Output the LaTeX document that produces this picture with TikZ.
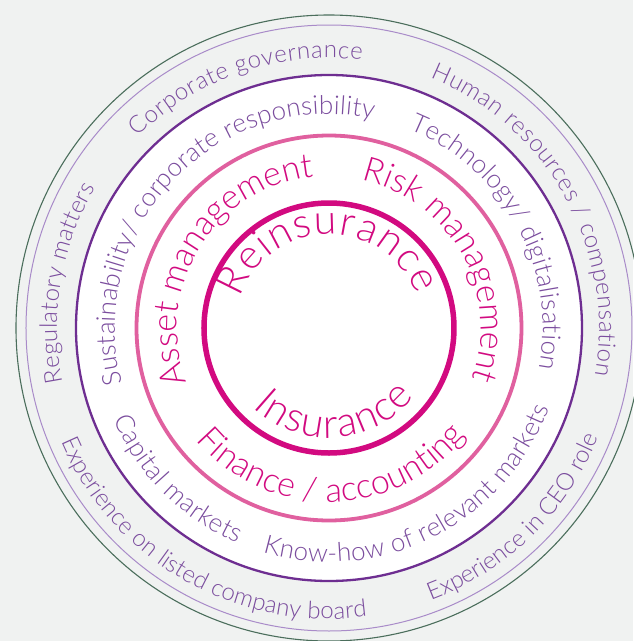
\documentclass[tikz,border=0pt]{standalone}
\usepackage{fontspec}
\IfFontExistsTF{Lato Light}{\setmainfont{Lato Light}}{\setmainfont{TeX Gyre Heros}}
\usetikzlibrary{decorations.text}
\definecolor{paper}{HTML}{F0F2F1}
\definecolor{ringgreen}{HTML}{4B6E5C}
\definecolor{ringlilac}{HTML}{A98BC9}
\definecolor{ringpurple}{HTML}{6E2E91}
\definecolor{ringpink}{HTML}{E0609F}
\definecolor{ringmag}{HTML}{D20A80}
\definecolor{textpurple}{HTML}{7B4D9E}
\newcommand{\coretext}{\fontsize{41}{41}\selectfont\color{ringmag}}
\newcommand{\midtext}{\fontsize{34}{34}\selectfont\color{ringmag}}
\newcommand{\innertext}{\fontsize{26}{26}\selectfont\color{textpurple}}
\newcommand{\outertext}{\fontsize{24}{24}\selectfont\color{textpurple}}
\tikzstyle{thinring} = [draw, line width=1.1pt]
\tikzstyle{ring} = [draw, line width=2.3pt]
\tikzstyle{arctext} = [decorate, decoration={text along path, text align={fit to path}}]

\begin{document}
\begin{tikzpicture}[x=1pt, y=1pt]
    \useasboundingbox (-329,-313) rectangle (304,328);
    \fill[paper] (-329,-313) rectangle (304,328);
    \coordinate (c) at (0,0);
    % rings
    \draw[thinring, ringgreen] (c) circle (313pt);
    \draw[thinring, ringlilac, line width=1pt] (c) circle (303pt);
    \draw[ring, ringpurple, fill=white] (c) circle (253pt);
    \draw[ring, ringpink, line width=3.8pt] (c) circle (192.5pt);
    \draw[ring, ringmag, line width=5.5pt] (c) circle (125pt);
    % core
    \path[arctext, decoration={text={|\coretext|Reinsurance}}] (c) ++(161:94pt) arc (161:21:94pt);
    \path[arctext, decoration={text={|\coretext|Insurance}}] (c) ++(226:110pt) arc (226:321:110pt);
    % pink ring
    \path[arctext, decoration={text={|\midtext|Asset management}}] (c) ++(201:152pt) arc (201:96:152pt);
    \path[arctext, decoration={text={|\midtext|Risk management}}] (c) ++(77.5:152pt) arc (77.5:-19:152pt);
    \path[arctext, decoration={text={|\midtext|Finance / accounting}}] (c) ++(220:174pt) arc (220:322:174pt);
    % purple ring
    \path[arctext, decoration={text={|\innertext|Sustainability/ corporate responsibility}}] (c) ++(195:214pt) arc (195:78:214pt);
    \path[arctext, decoration={text={|\innertext|Technology/ digitalisation}}] (c) ++(68:214pt) arc (68:-11:214pt);
    \path[arctext, decoration={text={|\innertext|Capital markets}}] (c) ++(203:234pt) arc (203:247:234pt);
    \path[arctext, decoration={text={|\innertext|Know-how of relevant markets}}] (c) ++(253.5:234pt) arc (253.5:340:234pt);
    % outside
    \path[arctext, decoration={text={|\outertext|Corporate governance}}] (c) ++(135:270pt) arc (135:83:270pt);
    \path[arctext, decoration={text={|\outertext|Human resources / compensation}}] (c) ++(68:270pt) arc (68:-10:270pt);
    \path[arctext, decoration={text={|\outertext|Regulatory matters}}] (c) ++(191.5:272pt) arc (191.5:149:272pt);
    \path[arctext, decoration={text={|\outertext|Experience on listed company board}}] (c) ++(203:291pt) arc (203:277.5:291pt);
    \path[arctext, decoration={text={|\outertext|Experience in CEO role}}] (c) ++(290.5:291pt) arc (290.5:337.5:291pt);
\end{tikzpicture}
\end{document}
